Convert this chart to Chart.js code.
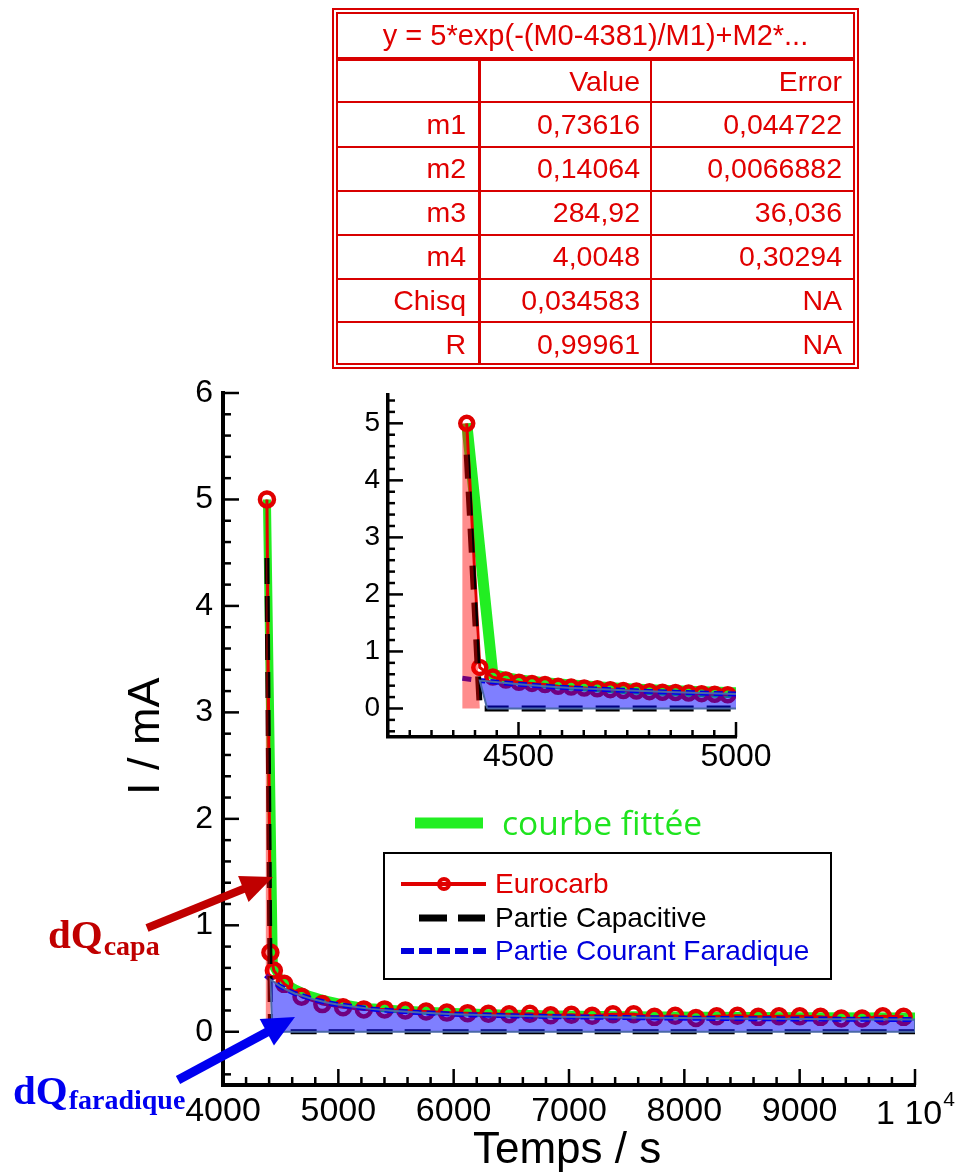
<!DOCTYPE html>
<html><head><meta charset="utf-8">
<script src="https://cdn.jsdelivr.net/npm/chart.js@4.4.1/dist/chart.umd.min.js"></script>
<style>
html,body{margin:0;padding:0;background:#fff;}
#wrap{position:relative;width:957px;height:1173px;overflow:hidden;background:#fff;font-family:"Liberation Sans",Arial,sans-serif;}
canvas{position:absolute;}
#main{left:0;top:0;}
#inset{left:300px;top:370px;}
.tl{position:absolute;background:#d80000;}
.tc{position:absolute;color:#e00000;font-size:28.5px;white-space:nowrap;height:40px;line-height:40px;}
.ttl{position:absolute;color:#e00000;font-size:29px;white-space:nowrap;text-align:center;}
.axt{position:absolute;white-space:nowrap;color:#000;font-family:"Liberation Sans",Arial,sans-serif;}
</style></head><body>
<div id="wrap">
<canvas id="main" width="957" height="1173"></canvas>
<canvas id="inset" width="480" height="420"></canvas>
<div id="table"></div>
<div class="axt" id="ytitle" style="font-size:45px;line-height:45px;transform-origin:0 0;transform:rotate(-90deg);">I / mA</div>
<div class="axt" id="xtitle" style="font-size:44px;line-height:44px;">Temps / s</div>
</div>
<script>
// ---------------- DATA ----------------
// Eurocarb measured current (main view markers)
const euroMainT = [4381,4411,4441,4531,4681,4861,5041,5221,5401,5581,5761,5941,6121,6301,6481,6661,6841,7021,7201,7381,7561,7741,7921,8101,8281,8461,8641,8821,9001,9181,9361,9541,9721,9901];
const euroMainI = [5.0,0.745,0.575,0.45,0.33,0.26,0.23,0.21,0.21,0.20,0.19,0.18,0.175,0.17,0.165,0.17,0.155,0.16,0.15,0.165,0.165,0.14,0.15,0.13,0.145,0.15,0.14,0.145,0.145,0.14,0.125,0.125,0.145,0.14];
// Eurocarb measured current (inset, every 30 s)
const euroInsetT = [4381,4411,4441,4471,4501,4531,4561,4591,4621,4651,4681,4711,4741,4771,4801,4831,4861,4891,4921,4951,4981];
const euroInsetI = [5.0,0.72,0.55,0.50,0.46,0.44,0.42,0.39,0.375,0.36,0.345,0.33,0.315,0.305,0.295,0.285,0.28,0.27,0.26,0.25,0.24];
// fitted curve
const fitT = [4381,4441,4471,4501,4561,4621,4681,4741,4801,4861,4921,4981,5041,5161,5281,5461,5701,6001,6401,6901,7501,8201,9001,10000];
const fitI = [5.0,0.60,0.54,0.50,0.45,0.41,0.38,0.35,0.33,0.31,0.295,0.28,0.265,0.245,0.23,0.215,0.20,0.185,0.172,0.162,0.155,0.15,0.146,0.143];
// capacitive part
const capT = [4381,4411,10000];
const capI = [4.45,0.0,0.0];
// faradic current part
const farT = [4371,4411,4441,4471,4501,4561,4621,4681,4741,4801,4861,4921,4981,5101,5281,5461,5701,6001,6401,6901,7501,8201,9001,10000];
const farI = [0.53,0.49,0.47,0.445,0.425,0.39,0.36,0.34,0.32,0.30,0.285,0.27,0.258,0.24,0.215,0.198,0.18,0.165,0.152,0.142,0.133,0.126,0.12,0.115];
// shaded charge areas
const capAreaT = [4371,4371,4381,4411];
const capAreaI = [0,5.0,5.0,0];
const farAreaStartT = 4411;
const farAreaBaseT = 4428;
const farAreaEndT = 10000;

// axis ticks & labels
const mainXTicks = [4000,5000,6000,7000,8000,9000,10000];
const mainXLabels = ['4000','5000','6000','7000','8000','9000',''];
const mainXLastLabel = ['1 10','4'];
const mainYTicks = [0,1,2,3,4,5,6];
const mainYLabels = ['0','1','2','3','4','5','6'];
const insetXTicks = [4500,5000];
const insetXLabels = ['4500','5000'];
const insetYTicks = [0,1,2,3,4,5];
const insetYLabels = ['0','1','2','3','4','5'];

// table
const tableTitle = 'y = 5*exp(-(M0-4381)/M1)+M2*...';
const tableHeaders = ['', 'Value', 'Error'];
const tableRows = ['m1','m2','m3','m4','Chisq','R'];
const tableValues = ['0,73616','0,14064','284,92','4,0048','0,034583','0,99961'];
const tableErrors = ['0,044722','0,0066882','36,036','0,30294','NA','NA'];

// legend
const legendNames = ['Eurocarb','Partie Capacitive','Partie Courant Faradique'];
const fitName = 'courbe fittée';

// ---------------- BUILD ----------------
const toPts = (T, I) => T.map((t, i) => ({x: t, y: I[i]}));
const euroMain = toPts(euroMainT, euroMainI);
const euroInset = toPts(euroInsetT, euroInsetI);
const fit = toPts(fitT, fitI);
const cap = toPts(capT, capI);
const far = toPts(farT, farI);
const capArea = toPts(capAreaT, capAreaI);
const farArea = [{x: farAreaBaseT, y: 0}].concat(far.filter(p => p.x >= farAreaStartT), [{x: farAreaEndT, y: 0}, {x: farAreaBaseT, y: 0}]);

const FONT = '"Liberation Sans", Arial, sans-serif';
const RED = '#e00000', GREEN = '#22ee22', BLUE = '#0000dd';

function datasets(big) {
  return [
    {data: capArea, showLine: true, fill: 'shape', backgroundColor: 'rgba(255,0,0,0.45)', borderColor: 'rgba(0,0,0,0)', borderWidth: 0, pointRadius: 0, order: 0},
    {data: farArea, showLine: true, fill: 'shape', backgroundColor: 'rgba(0,0,255,0.5)', borderColor: '#4a68a8', borderWidth: 2, pointRadius: 0, order: 1},
    {data: cap, showLine: true, borderColor: '#000', borderWidth: big ? 6 : 5, borderDash: big ? [24, 13] : [26, 12], pointRadius: 0, order: 2},
    {data: far, showLine: true, borderColor: BLUE, borderWidth: 5, borderDash: [9, 5], pointRadius: 0, order: 3},
    {data: big ? euroInset : euroMain, showLine: true, borderColor: RED, borderWidth: 3, pointRadius: big ? 6.5 : 7, pointBorderWidth: 4.5, pointBorderColor: RED, pointBackgroundColor: 'rgba(0,0,0,0)', order: 4},
    {data: fit, showLine: true, borderColor: GREEN, borderWidth: big ? 11 : 8, pointRadius: 0, order: 5}
  ];
}

function tickPlugin(o) {
  return {
    id: 'ticks_' + o.id,
    afterDraw(chart) {
      const c = chart.ctx, xs = chart.scales.x, ys = chart.scales.y, a = chart.chartArea;
      c.save();
      c.strokeStyle = '#000';
      c.lineWidth = o.tw;
      c.lineCap = 'butt';
      let k0 = Math.ceil(xs.min / o.xMinor - 1e-9), k1 = Math.floor(xs.max / o.xMinor + 1e-9);
      for (let k = k0; k <= k1; k++) {
        const v = k * o.xMinor, px = xs.getPixelForValue(v);
        const len = (k % o.xRatio === 0) ? o.maj : o.min;
        c.beginPath(); c.moveTo(px, a.bottom); c.lineTo(px, a.bottom - len); c.stroke();
      }
      k0 = Math.ceil(ys.min / o.yMinor - 1e-9); k1 = Math.floor(ys.max / o.yMinor + 1e-9);
      for (let k = k0; k <= k1; k++) {
        const v = k * o.yMinor, py = ys.getPixelForValue(v);
        const len = (k % o.yRatio === 0) ? o.maj : o.min;
        c.beginPath(); c.moveTo(a.left, py); c.lineTo(a.left + len, py); c.stroke();
      }
      c.restore();
    }
  };
}

function arrow(c, x1, y1, x2, y2, w, hl, hw, col) {
  const an = Math.atan2(y2 - y1, x2 - x1);
  const bx = x2 - hl * Math.cos(an), by = y2 - hl * Math.sin(an);
  c.strokeStyle = col; c.lineWidth = w; c.lineCap = 'butt';
  c.beginPath(); c.moveTo(x1, y1); c.lineTo(bx + 2 * Math.cos(an), by + 2 * Math.sin(an)); c.stroke();
  c.fillStyle = col;
  c.beginPath(); c.moveTo(x2, y2);
  c.lineTo(bx + hw / 2 * Math.sin(an), by - hw / 2 * Math.cos(an));
  c.lineTo(bx - hw / 2 * Math.sin(an), by + hw / 2 * Math.cos(an));
  c.closePath(); c.fill();
}

const overlay = {
  id: 'overlay',
  afterDraw(chart) {
    const c = chart.ctx, xs = chart.scales.x;
    c.save();
    // 1 10^4 label
    c.fillStyle = '#000';
    c.textBaseline = 'alphabetic';
    c.font = '34px ' + FONT;
    const w1 = c.measureText(mainXLastLabel[0]).width;
    c.font = '21px ' + FONT;
    const w2 = c.measureText(mainXLastLabel[1]).width;
    const px = xs.getPixelForValue(mainXTicks[mainXTicks.length - 1]);
    const sx = px - (w1 + w2) / 2;
    c.font = '34px ' + FONT;
    c.fillText(mainXLastLabel[0], sx, 1124);
    c.font = '21px ' + FONT;
    c.fillText(mainXLastLabel[1], sx + w1 + 1, 1106);

    // courbe fittée
    c.strokeStyle = GREEN; c.lineWidth = 11; c.lineCap = 'butt';
    c.beginPath(); c.moveTo(415, 823); c.lineTo(483, 823); c.stroke();
    c.font = '30px "Open Sans", sans-serif';
    const wf = c.measureText(fitName).width;
    c.font = (30 * 200 / wf).toFixed(1) + 'px "Open Sans", sans-serif';
    c.fillStyle = '#1fe41f';
    c.fillText(fitName, 502, 835);

    // legend box
    c.fillStyle = '#fff';
    c.fillRect(384, 853, 447, 126);
    c.strokeStyle = '#000'; c.lineWidth = 2;
    c.strokeRect(384, 853, 447, 126);
    const rows = [884, 918, 951];
    // Eurocarb
    c.strokeStyle = RED; c.lineWidth = 4;
    c.beginPath(); c.moveTo(401, rows[0]); c.lineTo(486, rows[0]); c.stroke();
    c.beginPath(); c.arc(444, rows[0], 5, 0, Math.PI * 2); c.stroke();
    // Capacitive
    c.strokeStyle = '#000'; c.lineWidth = 7;
    c.beginPath(); c.moveTo(419, rows[1]); c.lineTo(447, rows[1]); c.moveTo(458, rows[1]); c.lineTo(485, rows[1]); c.stroke();
    // Faradique
    c.strokeStyle = BLUE; c.lineWidth = 6;
    c.setLineDash([13, 5]);
    c.beginPath(); c.moveTo(401, rows[2]); c.lineTo(487, rows[2]); c.stroke();
    c.setLineDash([]);
    c.font = '28px ' + FONT;
    c.textBaseline = 'middle';
    const cols = [RED, '#000', BLUE];
    legendNames.forEach((n, i) => { c.fillStyle = cols[i]; c.fillText(n, 495, rows[i] + 1); });

    // annotations
    arrow(c, 147, 928, 273, 877, 8, 32, 28, '#c00000');
    arrow(c, 178, 1080, 295, 1017, 9, 32, 30, '#0000f0');
    c.textBaseline = 'alphabetic';
    c.fillStyle = '#c00000';
    c.font = 'bold 41px "Liberation Serif", "Times New Roman", serif';
    c.fillText('dQ', 48, 948);
    const wq = c.measureText('dQ').width;
    c.font = 'bold 28px "Liberation Serif", "Times New Roman", serif';
    c.fillText('capa', 48 + wq + 1, 955);
    c.fillStyle = '#0000f0';
    c.font = 'bold 41px "Liberation Serif", "Times New Roman", serif';
    c.fillText('dQ', 13, 1104);
    c.font = 'bold 28px "Liberation Serif", "Times New Roman", serif';
    c.fillText('faradique', 13 + wq + 1, 1109);
    c.restore();
  }
};

function scaleCfg(ticksArr, labelsArr, min, max, size, padding, fitFn, bw) {
  return {
    type: 'linear', min: min, max: max,
    afterBuildTicks: s => { s.ticks = ticksArr.map(v => ({value: v})); },
    afterFit: fitFn,
    grid: {display: false, drawTicks: false},
    border: {display: true, color: '#000', width: bw},
    ticks: {font: {family: FONT, size: size}, color: '#000', padding: padding, maxRotation: 0, autoSkip: false,
      callback: v => { const i = ticksArr.indexOf(v); return i >= 0 ? labelsArr[i] : ''; }}
  };
}

new Chart(document.getElementById('main'), {
  type: 'scatter',
  data: {datasets: datasets(false)},
  options: {
    responsive: false, animation: false, devicePixelRatio: 1,
    layout: {padding: {left: 0, top: 393, right: 42, bottom: 0}},
    plugins: {legend: {display: false}, tooltip: {enabled: false}},
    scales: {
      x: scaleCfg(mainXTicks, mainXLabels, 4000, 10000, 34, 6, s => { s.height = 88; }, 4),
      y: scaleCfg(mainYTicks, mainYLabels, -0.5, 6, 32, 10, s => { s.width = 223; }, 4)
    }
  },
  plugins: [tickPlugin({id: 'm', xMinor: 200, xRatio: 5, yMinor: 0.2, yRatio: 5, maj: 16, min: 8, tw: 2.5}), overlay]
});

new Chart(document.getElementById('inset'), {
  type: 'scatter',
  data: {datasets: datasets(true)},
  options: {
    responsive: false, animation: false, devicePixelRatio: 1,
    layout: {padding: {left: 0, top: 21, right: 44, bottom: 0}},
    plugins: {legend: {display: false}, tooltip: {enabled: false}},
    scales: {
      x: scaleCfg(insetXTicks, insetXLabels, 4200, 5000, 32, 1, s => { s.height = 53; }, 3.5),
      y: scaleCfg(insetYTicks, insetYLabels, -0.5, 5.5, 28, 8, s => { s.width = 88; }, 3.5)
    }
  },
  plugins: [tickPlugin({id: 'i', xMinor: 50, xRatio: 10, yMinor: 0.2, yRatio: 5, maj: 15, min: 7, tw: 2.5})]
});

// ---------------- TABLE (HTML) ----------------
(function () {
  const t = document.getElementById('table');
  function line(x, y, w, h) { const d = document.createElement('div'); d.className = 'tl'; d.style.left = x + 'px'; d.style.top = y + 'px'; d.style.width = w + 'px'; d.style.height = h + 'px'; t.appendChild(d); }
  function rect(l, tp, r, b, th) { line(l, tp, r - l, th); line(l, b - th, r - l, th); line(l, tp, th, b - tp); line(r - th, tp, th, b - tp); }
  rect(332, 8, 859, 369, 2);
  rect(336, 12, 855, 365, 2);
  line(336, 57, 519, 4);
  line(336, 101, 519, 2);
  [146, 190, 234, 278, 321].forEach(y => line(336, y, 519, 2));
  line(478, 59, 3, 306);
  line(650, 59, 2, 306);
  const ttl = document.createElement('div');
  ttl.className = 'ttl'; ttl.textContent = tableTitle;
  ttl.style.left = '338px'; ttl.style.width = '515px'; ttl.style.top = '14px'; ttl.style.height = '43px'; ttl.style.lineHeight = '43px';
  t.appendChild(ttl);
  function cell(txt, right, cy) {
    const d = document.createElement('div'); d.className = 'tc'; d.textContent = txt;
    d.style.left = (right - 300) + 'px'; d.style.width = '300px'; d.style.textAlign = 'right'; d.style.top = (cy - 20) + 'px';
    t.appendChild(d);
  }
  const rights = [466, 640, 842];
  const centers = [81, 124, 168, 212, 256, 300, 344];
  tableHeaders.forEach((h, j) => cell(h, rights[j], centers[0]));
  tableRows.forEach((r, i) => {
    cell(r, rights[0], centers[i + 1]);
    cell(tableValues[i], rights[1], centers[i + 1]);
    cell(tableErrors[i], rights[2], centers[i + 1]);
  });
  // axis titles
  const xt = document.getElementById('xtitle');
  xt.style.left = (567 - xt.offsetWidth / 2) + 'px';
  xt.style.top = (1166 - 40) + 'px';
  const yt = document.getElementById('ytitle');
  const W = yt.offsetWidth;
  yt.style.left = '121px';
  yt.style.top = (736 + W / 2) + 'px';
})();
</script>
</body></html>
